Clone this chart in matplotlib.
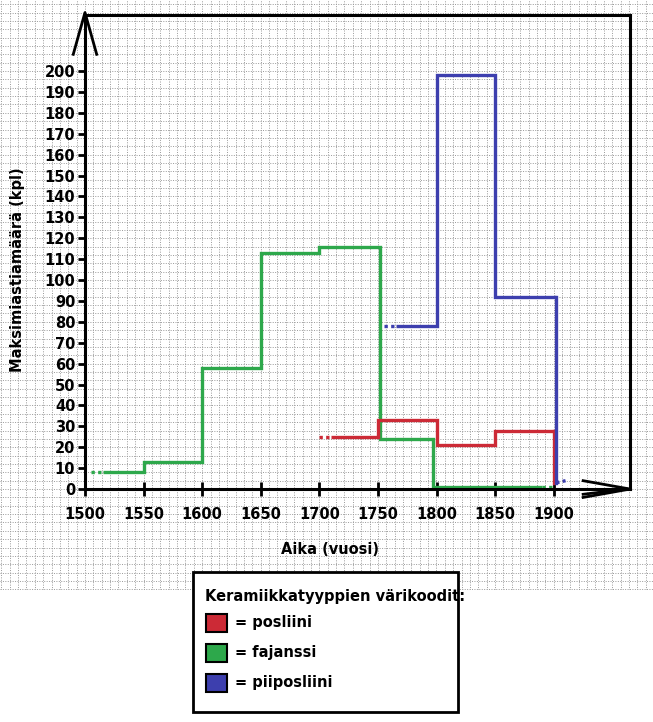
import matplotlib
matplotlib.use("Agg")
import matplotlib.pyplot as plt
from matplotlib.patches import Rectangle
import numpy as np

# data (step edges and heights)
green_edges = [1515, 1550, 1600, 1650, 1700, 1752, 1797, 1890]
green_vals = [8, 13, 58, 113, 116, 24, 1]
red_edges = [1710, 1750, 1800, 1850, 1900]
red_vals = [25, 33, 21, 28]
blue_edges = [1765, 1800, 1850, 1902]
blue_vals = [78, 198, 92]

legend_labels = ["= posliini", "= fajanssi", "= piiposliini"]
RED, GREEN, BLUE = "#cc2a36", "#2da84b", "#3d3fae"
legend_colors = [RED, GREEN, BLUE]

W, H = 653, 722
fig = plt.figure(figsize=(W / 100, H / 100), dpi=100)
# axes covers the graph paper area (px 0..590 vertically)
ax = fig.add_axes([0, 1 - 590 / H, 1, 590 / H])
ax.set_xlim(1427.5, 1984.6)
ax.set_ylim(-48.3, 234)

# graph paper grid
for gx in np.arange(1500 - 7.14 * 10, 1985, 7.14):
    ax.axvline(gx, color="#999999", lw=0.7, ls=(0, (1, 1.5)), zorder=0)
for gy in np.arange(-48, 234, 4.0):
    ax.axhline(gy, color="#999999", lw=0.7, ls=(0, (1, 1.5)), zorder=0)

# frame / axes
for name, pos in [("left", 1500), ("right", 1965), ("bottom", 0), ("top", 226.8)]:
    sp = ax.spines[name]
    sp.set_position(("data", pos))
    sp.set_linewidth(2.2)
    sp.set_zorder(5)
ax.spines["left"].set_bounds(0, 226.8)
ax.spines["right"].set_bounds(0, 226.8)
ax.spines["top"].set_bounds(1500, 1965)
ax.spines["bottom"].set_bounds(1500, 1965)

# arrows
ax.plot([1490, 1500, 1510], [208, 228, 208], color="black", lw=2, clip_on=False, zorder=6)
ax.plot([1925, 1965, 1925], [4, 0, -4], color="black", lw=2, clip_on=False, zorder=6)
ax.plot([1925, 1962], [-2.5, 0], color="black", lw=2, zorder=6)

ax.set_yticks(range(0, 201, 10))
ax.set_xticks(range(1500, 1901, 50))
ax.tick_params(axis="y", direction="out", length=5, width=2, pad=2)
ax.tick_params(axis="x", direction="inout", length=10, width=2, pad=8)
for lab in ax.get_xticklabels() + ax.get_yticklabels():
    lab.set_fontweight("bold")
    lab.set_fontsize(10.5)

lw = 2.4
# fajanssi
ax.stairs(green_vals, green_edges, color=GREEN, lw=lw, baseline=None, zorder=3)
ax.plot([1505, 1515], [green_vals[0]] * 2, color=GREEN, lw=lw, ls=(0, (1, 1)), zorder=3)
ax.plot([1890, 1900], [green_vals[-1]] * 2, color=GREEN, lw=lw, ls=(0, (1, 1)), zorder=3)
# posliini
ax.stairs(red_vals, red_edges, color=RED, lw=lw, baseline=None, zorder=3)
ax.plot([1900, 1900], [red_vals[-1], 3], color=RED, lw=lw, zorder=3)
ax.plot([1700, 1710], [red_vals[0]] * 2, color=RED, lw=lw, ls=(0, (1, 1)), zorder=3)
# piiposliini
ax.stairs(blue_vals, blue_edges, color=BLUE, lw=lw, baseline=None, zorder=4)
ax.plot([1902, 1902], [blue_vals[-1], 3], color=BLUE, lw=lw, zorder=4)
ax.plot([1902, 1910], [3, 4], color=BLUE, lw=lw, ls=(0, (1, 1)), zorder=4)
ax.plot([1755, 1765], [blue_vals[0]] * 2, color=BLUE, lw=lw, ls=(0, (1, 1)), zorder=4)

ax.text(1500 - 0.853 * 67, 105, "Maksimiastiamäärä (kpl)", rotation=90, ha="center",
        va="center", fontsize=10.5, fontweight="bold")
ax.text(1500 + 0.853 * 245, -29, "Aika (vuosi)", ha="center", va="center",
        fontsize=10.5, fontweight="bold")

# legend box
def fx(px):
    return px / W

def fy(py):
    return 1 - py / H

fig.patches.append(Rectangle((fx(193), fy(712)), fx(265), 140 / H, transform=fig.transFigure,
                             facecolor="white", edgecolor="black", lw=2, zorder=10))
fig.text(fx(205), fy(596), "Keramiikkatyyppien värikoodit:", fontsize=10.5,
         fontweight="bold", va="center", zorder=11)
for i, (lab, c) in enumerate(zip(legend_labels, legend_colors)):
    yc = 623 + i * 30
    fig.patches.append(Rectangle((fx(206), fy(yc + 9)), fx(21), 18 / H, transform=fig.transFigure,
                                 facecolor=c, edgecolor="black", lw=1.5, zorder=11))
    fig.text(fx(235), fy(yc), lab, fontsize=10.5, fontweight="bold", va="center", zorder=11)

fig.savefig("out.png", dpi=100)
